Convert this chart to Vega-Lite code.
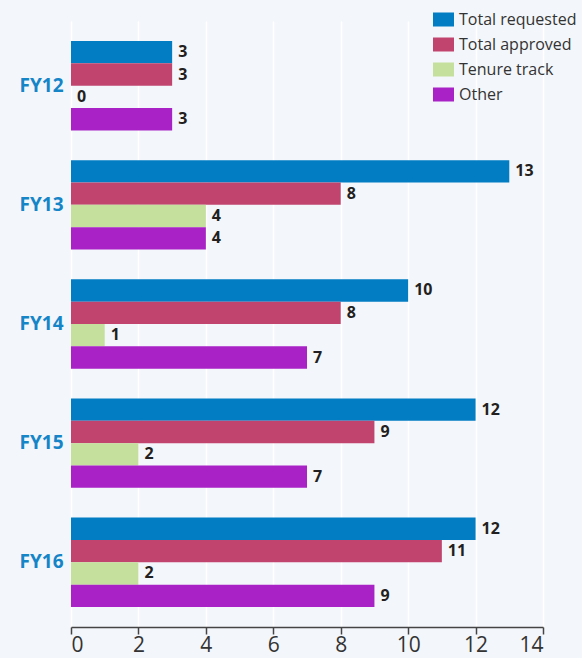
{
  "$schema": "https://vega.github.io/schema/vega-lite/v6.json",
  "width": 472,
  "height": 606,
  "autosize": {"type": "none"},
  "padding": {"left": 71, "top": 21, "right": 39, "bottom": 31},
  "background": "#f3f6fa",
  "config": {
    "view": {"stroke": null},
    "font": "Open Sans"
  },
  "data": {
    "values": [
      {"year": "FY12", "series": "Total requested", "value": 3},
      {"year": "FY12", "series": "Total approved", "value": 3},
      {"year": "FY12", "series": "Tenure track", "value": 0},
      {"year": "FY12", "series": "Other", "value": 3},
      {"year": "FY13", "series": "Total requested", "value": 13},
      {"year": "FY13", "series": "Total approved", "value": 8},
      {"year": "FY13", "series": "Tenure track", "value": 4},
      {"year": "FY13", "series": "Other", "value": 4},
      {"year": "FY14", "series": "Total requested", "value": 10},
      {"year": "FY14", "series": "Total approved", "value": 8},
      {"year": "FY14", "series": "Tenure track", "value": 1},
      {"year": "FY14", "series": "Other", "value": 7},
      {"year": "FY15", "series": "Total requested", "value": 12},
      {"year": "FY15", "series": "Total approved", "value": 9},
      {"year": "FY15", "series": "Tenure track", "value": 2},
      {"year": "FY15", "series": "Other", "value": 7},
      {"year": "FY16", "series": "Total requested", "value": 12},
      {"year": "FY16", "series": "Total approved", "value": 11},
      {"year": "FY16", "series": "Tenure track", "value": 2},
      {"year": "FY16", "series": "Other", "value": 9}
    ]
  },
  "encoding": {
    "y": {
      "field": "year",
      "type": "nominal",
      "title": null,
      "scale": {"paddingInner": 0.25, "paddingOuter": 0.168},
      "axis": {
        "domain": false,
        "ticks": false,
        "grid": false,
        "labelFontWeight": "bold",
        "labelColor": "#1585c8",
        "labelFontSize": 19,
        "labelPadding": 8
      }
    },
    "yOffset": {
      "field": "series",
      "type": "nominal",
      "sort": ["Total requested", "Total approved", "Tenure track", "Other"],
      "scale": {"paddingInner": 0, "paddingOuter": 0}
    },
    "x": {
      "field": "value",
      "type": "quantitative",
      "title": null,
      "scale": {"domain": [0, 14], "nice": false},
      "axis": {
        "values": [0, 2, 4, 6, 8, 10, 12, 14],
        "domainColor": "#444444",
        "domainWidth": 1.5,
        "tickColor": "#444444",
        "tickWidth": 1.5,
        "tickSize": 7,
        "labelFontSize": 21,
        "labelColor": "#333333",
        "labelPadding": 0,
        "gridColor": "#ffffff",
        "gridWidth": 1.5,
        "gridOpacity": 1
      }
    }
  },
  "layer": [
    {
      "mark": {"type": "bar"},
      "encoding": {
        "color": {
          "field": "series",
          "type": "nominal",
          "scale": {
            "domain": ["Total requested", "Total approved", "Tenure track", "Other"],
            "range": ["#027dc3", "#c1446f", "#c4e09c", "#a822c6"]
          },
          "legend": {
            "title": null,
            "orient": "none",
            "legendX": 362,
            "legendY": -12,
            "padding": 0,
            "symbolType": "M-1,-0.667H1V0.667H-1Z",
            "symbolSize": 441,
            "symbolOpacity": 1,
            "symbolStrokeWidth": 0,
            "labelFontSize": 16,
            "labelColor": "#333333",
            "labelOffset": 5,
            "rowPadding": 6
          }
        }
      }
    },
    {
      "mark": {
        "type": "text",
        "align": "left",
        "baseline": "middle",
        "dx": 6,
        "fontSize": 16,
        "fontWeight": "bold",
        "color": "#231f20"
      },
      "encoding": {
        "text": {"field": "value", "type": "quantitative"}
      }
    }
  ]
}
